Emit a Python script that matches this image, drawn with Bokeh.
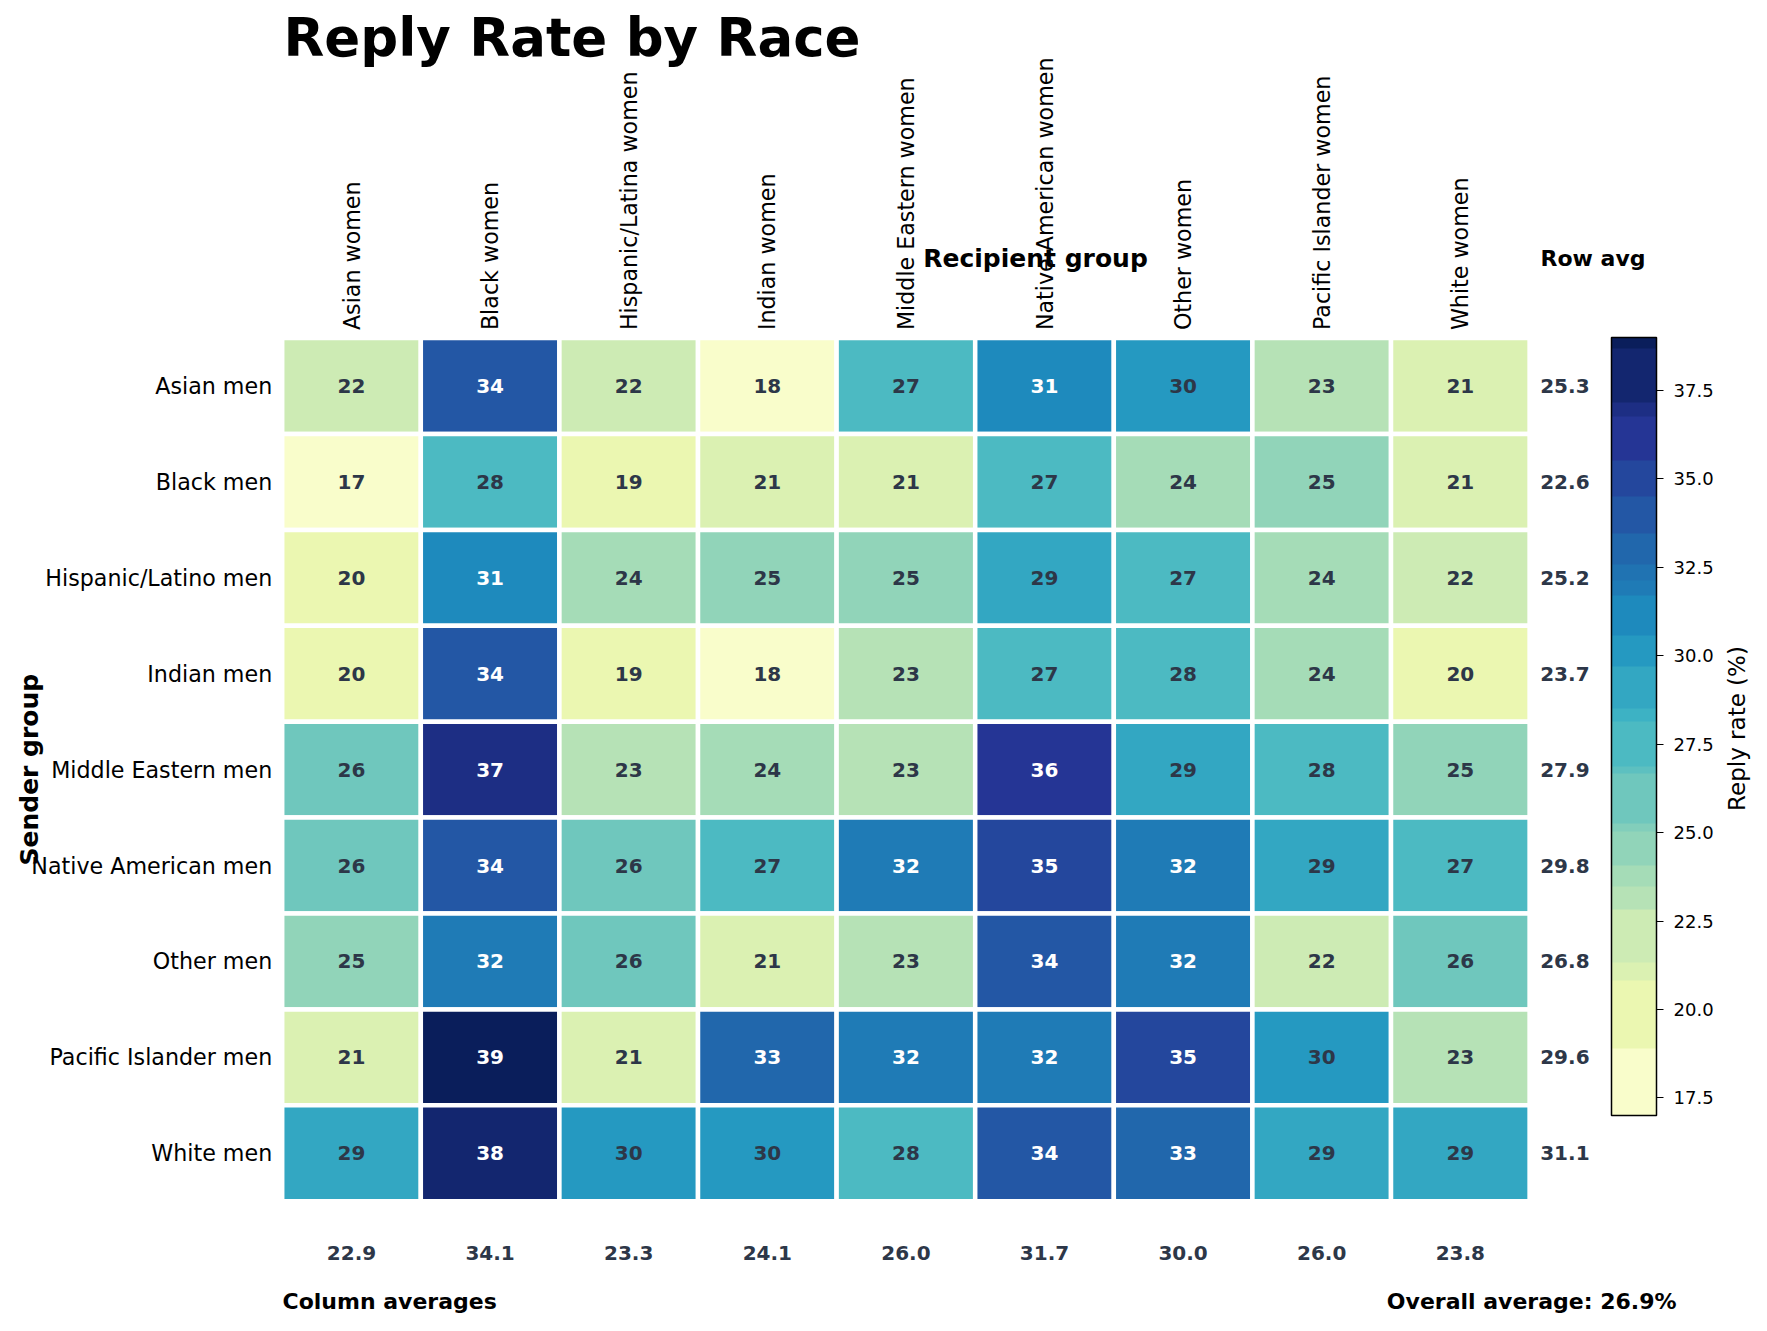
import math
from bokeh.plotting import figure
from bokeh.models import (ColumnDataSource, LinearColorMapper, ColorBar, FixedTicker,
                          PrintfTickFormatter, Label, Range1d)
from bokeh.transform import transform
from bokeh.core.properties import value
from bokeh.embed import file_html
from bokeh.resources import INLINE

# ---------------- data ----------------
recipients = ["Asian women", "Black women", "Hispanic/Latina women", "Indian women",
              "Middle Eastern women", "Native American women", "Other women",
              "Pacific Islander women", "White women"]
senders = ["Asian men", "Black men", "Hispanic/Latino men", "Indian men",
           "Middle Eastern men", "Native American men", "Other men",
           "Pacific Islander men", "White men"]

asian_men = [22, 34, 22, 18, 27, 31, 30, 23, 21]
black_men = [17, 28, 19, 21, 21, 27, 24, 25, 21]
hispanic_men = [20, 31, 24, 25, 25, 29, 27, 24, 22]
indian_men = [20, 34, 19, 18, 23, 27, 28, 24, 20]
middle_eastern_men = [26, 37, 23, 24, 23, 36, 29, 28, 25]
native_american_men = [26, 34, 26, 27, 32, 35, 32, 29, 27]
other_men = [25, 32, 26, 21, 23, 34, 32, 22, 26]
pacific_islander_men = [21, 39, 21, 33, 32, 32, 35, 30, 23]
white_men = [29, 38, 30, 30, 28, 34, 33, 29, 29]

row_avg = [25.3, 22.6, 25.2, 23.7, 27.9, 29.8, 26.8, 29.6, 31.1]
col_avg = [22.9, 34.1, 23.3, 24.1, 26.0, 31.7, 30.0, 26.0, 23.8]
overall_avg = 26.9
cbar_ticks = [17.5, 20.0, 22.5, 25.0, 27.5, 30.0, 32.5, 35.0, 37.5]
color_low, color_high = 17.0, 39.0
# colour steps visible on the reference colour bar
cbar_band_edges = [17.0, 18.90, 20.83, 21.34, 22.82, 23.49, 24.08, 25.04, 25.26,
                   26.66, 26.89, 28.14, 28.51, 29.70, 30.58, 31.69, 32.13, 32.58,
                   33.46, 34.50, 35.53, 36.79, 37.16, 38.71, 39.0]

matrix = [asian_men, black_men, hispanic_men, indian_men, middle_eastern_men,
          native_american_men, other_men, pacific_islander_men, white_men]

# ---------------- palette (YlGnBu, stepped) ----------------
anchors = ["#ffffd9", "#edf8b1", "#c7e9b4", "#7fcdbb", "#41b6c4",
           "#1d91c0", "#225ea8", "#253494", "#081d58"]

def hex2rgb(h):
    h = h.lstrip("#")
    return [int(h[i:i + 2], 16) for i in (0, 2, 4)]

ANCH = [hex2rgb(c) for c in anchors]

def ylgnbu(t):
    t = min(max(t, 0.0), 1.0) * (len(ANCH) - 1)
    i = min(int(t), len(ANCH) - 2)
    f = t - i
    c = [round(ANCH[i][j] + (ANCH[i + 1][j] - ANCH[i][j]) * f) for j in range(3)]
    return "#%02x%02x%02x" % tuple(c)

N = 1100
palette = []
for k in range(N):
    v = color_low + (k + 0.5) * (color_high - color_low) / N
    b = 0
    while b < len(cbar_band_edges) - 2 and v >= cbar_band_edges[b + 1]:
        b += 1
    mid = 0.5 * (cbar_band_edges[b] + cbar_band_edges[b + 1])
    palette.append(ylgnbu((mid - color_low) / (color_high - color_low)))
mapper = LinearColorMapper(palette=palette, low=color_low, high=color_high)

# ---------------- layout constants (pixels) ----------------
W, H = 1751, 1315
GL, GT = 281.7, 337.6          # grid left / top on the canvas
CW, RH = 138.6, 95.9           # cell width / height
GR, GB = GL + 9 * CW, GT + 9 * RH

def X(px):
    return (px - GL) / CW

def Y(py):
    return (py - GT) / RH

ncol, nrow = len(recipients), len(senders)

# ---------------- source (cell index -> grid position) ----------------
xs, ys, vals, labels, tcols = [], [], [], [], []
for r in range(nrow):
    for c in range(ncol):
        v = matrix[r][c]
        xs.append(c + 0.5)
        ys.append(r + 0.5)
        vals.append(v)
        labels.append(str(v))
        tcols.append("white" if v > 30 else "#2d3748")
src = ColumnDataSource(dict(x=xs, y=ys, v=vals, label=labels, tcol=tcols))

FONT = "DejaVu Sans"
TXT = "#2d3748"

p = figure(width=W, height=H,
           x_range=Range1d(X(0), X(W)), y_range=Range1d(Y(H), Y(0)),
           x_axis_location=None, y_axis_location=None, title=None,
           toolbar_location=None, output_backend="svg", min_border=0)
p.outline_line_color = None
p.grid.visible = False
p.background_fill_color = "white"
p.border_fill_color = "white"

p.rect(x="x", y="y", width=1, height=1, source=src,
       fill_color=transform("v", mapper), line_color="white", line_width=4.5)
p.text(x="x", y="y", text="label", source=src, text_color="tcol",
       text_align="center", text_baseline="middle",
       text_font=value(FONT), text_font_style="bold", text_font_size=value("20px"))

col_centers = [i + 0.5 for i in range(ncol)]
row_centers = [i + 0.5 for i in range(nrow)]

def tick_text(x, y, text, size, color="black", bold=False, align="center",
              baseline="middle", angle=0.0):
    p.text(x=x, y=y, text=text, text_font=value(FONT), text_font_size=value(size),
           text_font_style="bold" if bold else "normal", text_color=color,
           text_align=align, text_baseline=baseline, angle=angle)

# column names (top, rotated)
tick_text(col_centers, [Y(GT - 8)] * ncol, recipients, "22.2px",
          align="left", angle=math.pi / 2)
# row names (left)
tick_text([X(GL - 10)] * nrow, row_centers, senders, "22.2px", align="right")
# row averages (right)
tick_text([X(GR + 10.6)] * nrow, row_centers, [f"{v:.1f}" for v in row_avg],
          "20px", color=TXT, bold=True, align="left")
# column averages (bottom)
tick_text(col_centers, [Y(GB + 51.5)] * ncol, [f"{v:.1f}" for v in col_avg],
          "20px", color=TXT, bold=True)

cb = ColorBar(color_mapper=mapper, ticker=FixedTicker(ticks=cbar_ticks),
              formatter=PrintfTickFormatter(format="%.1f"),
              width=45, height=778, padding=0, margin=0,
              major_label_text_font=FONT, major_label_text_font_size="18px",
              major_label_text_color="black",
              major_tick_line_color="black", major_tick_in=0, major_tick_out=7,
              minor_tick_line_color=None, label_standoff=10,
              bar_line_color="black", bar_line_width=1.5,
              background_fill_alpha=0, border_line_color=None,
              location=(1611, H - 1115))
p.add_layout(cb, "center")

def lab(text, x, y, size, bold=True, align="left", baseline="middle", angle=0.0, color="black"):
    p.add_layout(Label(x=x, y=y, text=text, text_font=FONT, text_font_size=size,
                       text_font_style="bold" if bold else "normal",
                       text_align=align, text_baseline=baseline, angle=angle,
                       text_color=color))

lab("Reply Rate by Race", X(283), Y(36.5), "53px")
lab("Recipient group", X(1035), Y(258), "25px", align="center")
lab("Row avg", X(1540), Y(258), "22px")
lab("Sender group", X(28.5), 4.5, "25px", align="center", angle=math.pi / 2)
lab("Column averages", X(282), Y(1301.3), "22px")
lab(f"Overall average: {overall_avg:.1f}%", X(1676), Y(1301.3), "22px", align="right")
lab("Reply rate (%)", X(1736.6), Y(728), "23px", bold=False, align="center", angle=math.pi / 2)

open("out.html", "w").write(file_html(p, INLINE))
